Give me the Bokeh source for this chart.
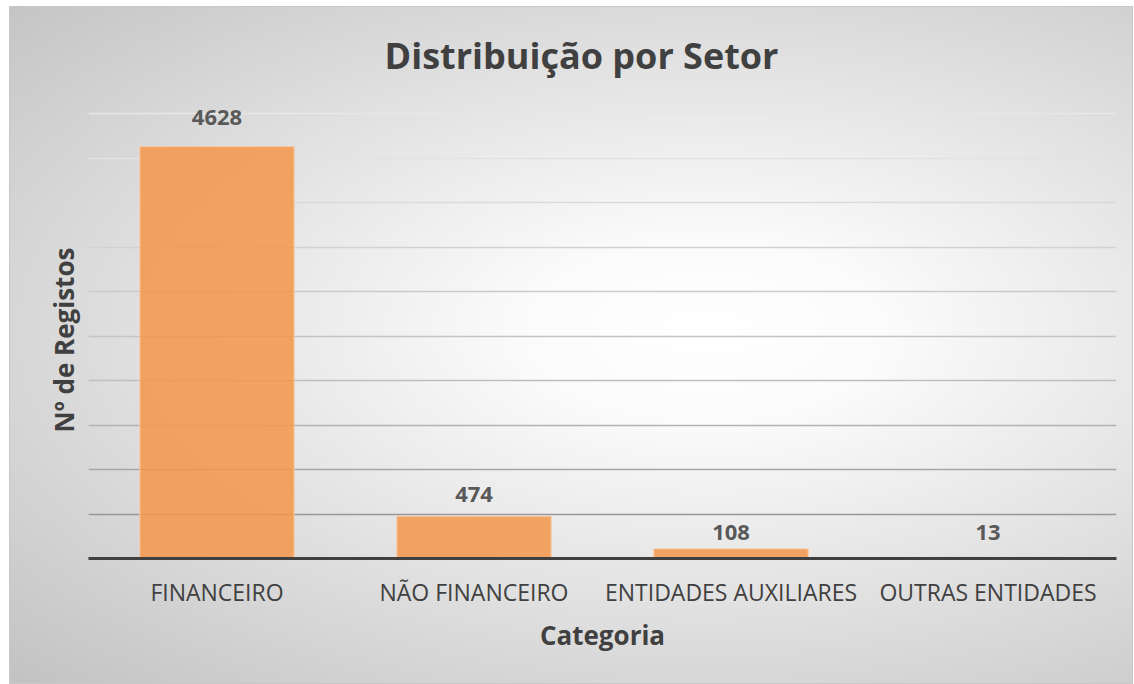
from bokeh.plotting import figure
from bokeh.models import ColumnDataSource, LabelSet, FixedTicker, Range1d, Grid, Title
from bokeh.core.properties import value
from bokeh.embed import file_html
from bokeh.resources import INLINE

categories = ["FINANCEIRO", "NÃO FINANCEIRO", "ENTIDADES AUXILIARES", "OUTRAS ENTIDADES"]
counts = [4628, 474, 108, 13]
labels = [str(c) for c in counts]
grid_levels = [500, 1000, 1500, 2000, 2500, 3000, 3500, 4000, 4500, 5000]

# styling only
grid_greys = [152, 166, 178, 190, 196, 202, 210, 218, 226, 232]
label_gaps = [22, 14, 9, 17]

FONT = "Open Sans"
Y_MAX = 5000
Y_HEADROOM = 20 * 5000 / 445  # 20 px of room above the top gridline for labels

src = ColumnDataSource(dict(cat=categories, val=counts, lab=labels, gap=label_gaps))

p = figure(x_range=categories, y_range=Range1d(0, Y_MAX + Y_HEADROOM), width=1122, height=676,
           output_backend="svg", toolbar_location=None,
           min_border_left=78, min_border_right=16, min_border_top=86, min_border_bottom=125)
p.margin = (7, 0, 0, 10)

p.background_fill_alpha = 0
p.border_fill_alpha = 0
p.outline_line_color = None
p.styles = {
    "background": "radial-gradient(ellipse farthest-corner at 62% 48%, #ffffff 0%, #fbfbfb 18%, #c2c2c2 100%)",
    "outline": "1px solid #c8c8c8",
}

p.xgrid.grid_line_color = None
p.ygrid.grid_line_color = None
for lvl, g in zip(grid_levels, grid_greys):
    p.add_layout(Grid(dimension=1, ticker=FixedTicker(ticks=[lvl]),
                      grid_line_color="#%02x%02x%02x" % (g, g, g), grid_line_width=1.3))

p.vbar(x="cat", top="val", width=0.6, source=src, fill_color="#F3964A", fill_alpha=0.85,
       line_color="#F8C8A0", line_width=1)

p.add_layout(LabelSet(x="cat", y="val", text="lab", source=src, text_align="center",
                      text_baseline="bottom", y_offset="gap", text_font=value(FONT),
                      text_font_size="22px", text_font_style="bold", text_color="#595959"))

p.title.text = "Distribuição por Setor"
p.title.text_font = FONT
p.title.text_font_size = "36px"
p.title.text_font_style = "bold"
p.title.text_color = "#404040"
p.title.align = "left"
p.title.offset = 296
p.title.vertical_align = "bottom"
p.title.standoff = 27

# y axis: no ticks / labels; its title is placed on the left side
p.yaxis.visible = False
p.add_layout(Title(text="Nº de Registos", text_font=FONT, text_font_size="26px",
                   text_font_style="bold", text_color="#404040", align="left",
                   offset=126, vertical_align="bottom", standoff=14), "left")

p.xaxis.axis_line_color = "#404040"
p.xaxis.axis_line_width = 3
p.xaxis.major_tick_line_color = None
p.xaxis.minor_tick_line_color = None
p.xaxis.major_label_text_font = FONT
p.xaxis.major_label_text_font_size = "23px"
p.xaxis.major_label_text_color = "#404040"
p.xaxis.major_label_standoff = 11
p.xaxis.axis_label = "Categoria"
p.xaxis.axis_label_text_font = FONT
p.xaxis.axis_label_text_font_size = "26px"
p.xaxis.axis_label_text_font_style = "bold"
p.xaxis.axis_label_text_color = "#404040"
p.xaxis.axis_label_standoff = 6

p.x_range.range_padding = 0

open("out.html", "w").write(file_html(p, INLINE))
